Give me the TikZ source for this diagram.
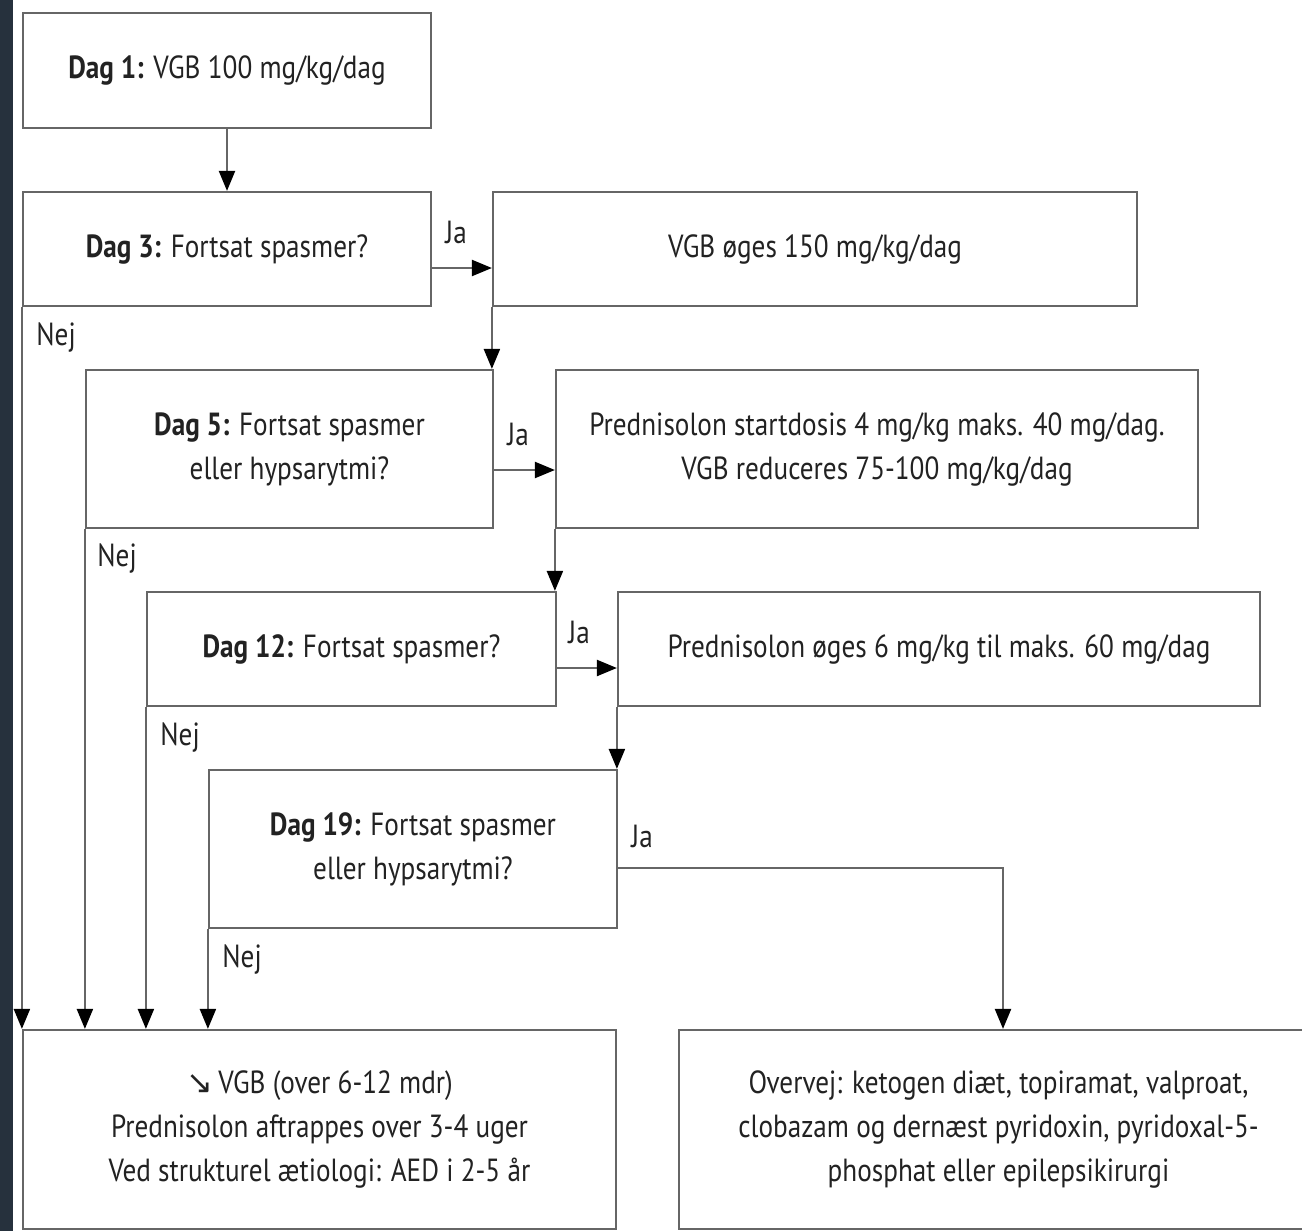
\documentclass[tikz,border=0pt]{standalone}
\usepackage{fontspec}
\setmainfont{PT Sans}[FakeStretch=0.85]
\newfontfamily\symfont{DejaVu Sans}
\usetikzlibrary{arrows.meta,calc}
\definecolor{strip}{HTML}{26313D}
\definecolor{edge}{HTML}{666666}
\definecolor{ink}{HTML}{222222}
\begin{document}
\begin{tikzpicture}[x=0.5pt,y=-0.5pt,
  box/.style={draw=edge, line width=1.1pt, fill=white, inner sep=0pt, align=center, text=ink, font=\fontsize{16}{22}\selectfont},
  arr/.style={draw=edge, line width=1.1pt, -{Triangle[length=10pt,width=8pt,color=black]}},
  lab/.style={text=ink, font=\fontsize{16}{18}\selectfont, inner sep=0pt, anchor=base west}]
\useasboundingbox (0,0) rectangle (1302,1231);
\clip (0,0) rectangle (1302,1231);
\fill[white] (0,0) rectangle (1302,1231);
\fill[strip] (0,0) rectangle (13,1231);

\node[box, minimum width=204pt, minimum height=57.5pt] (b1) at (227,70.5) {\textbf{Dag 1:} VGB 100 mg/kg/dag};
\node[box, minimum width=204pt, minimum height=57pt] (d3) at (227,249) {\textbf{Dag 3:} Fortsat spasmer?};
\node[box, minimum width=322pt, minimum height=57pt] (v) at (815,249) {VGB øges 150 mg/kg/dag};
\node[box, minimum width=203.5pt, minimum height=79pt] (d5) at (289.5,449) {\textbf{Dag 5:} Fortsat spasmer\\eller hypsarytmi?};
\node[box, minimum width=321pt, minimum height=79pt] (p) at (877,449) {Prednisolon startdosis 4 mg/kg maks. 40 mg/dag.\\VGB reduceres 75-100 mg/kg/dag};
\node[box, minimum width=204.5pt, minimum height=57pt] (d12) at (351.5,649) {\textbf{Dag 12:} Fortsat spasmer?};
\node[box, minimum width=321pt, minimum height=57pt] (p2) at (939,649) {Prednisolon øges 6 mg/kg til maks. 60 mg/dag};
\node[box, minimum width=204pt, minimum height=79pt] (d19) at (413,849) {\textbf{Dag 19:} Fortsat spasmer\\eller hypsarytmi?};
\node[box, minimum width=296.5pt, minimum height=99.5pt] (bl) at (319.5,1129.5) {{\symfont\fontsize{16}{22}\selectfont ↘}\,VGB (over 6-12 mdr)\\Prednisolon aftrappes over 3-4 uger\\Ved strukturel ætiologi: AED i 2-5 år};
\node[box, minimum width=319.5pt, minimum height=99.5pt] (br) at (998.5,1129.5) {Overvej: ketogen diæt, topiramat, valproat,\\clobazam og dernæst pyridoxin, pyridoxal-5-\\phosphat eller epilepsikirurgi};

% main flow
\draw[arr] (b1.south) -- (b1.south |- d3.north);
\coordinate (j3) at ([yshift=-9.5pt]d3.east);
\draw[arr] (j3) -- (j3 -| v.west);
\draw[arr] (v.south west) -- (v.south west |- d5.north);
\coordinate (j5) at ([yshift=-10.5pt]d5.east);
\draw[arr] (j5) -- (j5 -| p.west);
\draw[arr] (p.south west) -- (p.south west |- d12.north);
\coordinate (j12) at ([yshift=-9.5pt]d12.east);
\draw[arr] (j12) -- (j12 -| p2.west);
\draw[arr] (p2.south west) -- (p2.south west |- d19.north);
\coordinate (j19) at ([yshift=-9.5pt]d19.east);
\draw[arr] (j19) -| ([xshift=2.25pt]br.north);

% Nej branches
\draw[arr] (d3.south west) -- (d3.south west |- bl.north);
\draw[arr] (d5.south west) -- (d5.south west |- bl.north);
\draw[arr] (d12.south west) -- (d12.south west |- bl.north);
\draw[arr] (d19.south west) -- (d19.south west |- bl.north);

% labels
\node[lab] (ja3) at (445,243) {Ja};
\node[lab] (ja5) at (507,445) {Ja};
\node[lab] (ja12) at (568,643) {Ja};
\node[lab] (ja19) at (631,847) {Ja};
\node[lab] (n3) at (36,345) {Nej};
\node[lab] (n5) at (97,566) {Nej};
\node[lab] (n12) at (160,745) {Nej};
\node[lab] (n19) at (222,967) {Nej};
\end{tikzpicture}
\end{document}
